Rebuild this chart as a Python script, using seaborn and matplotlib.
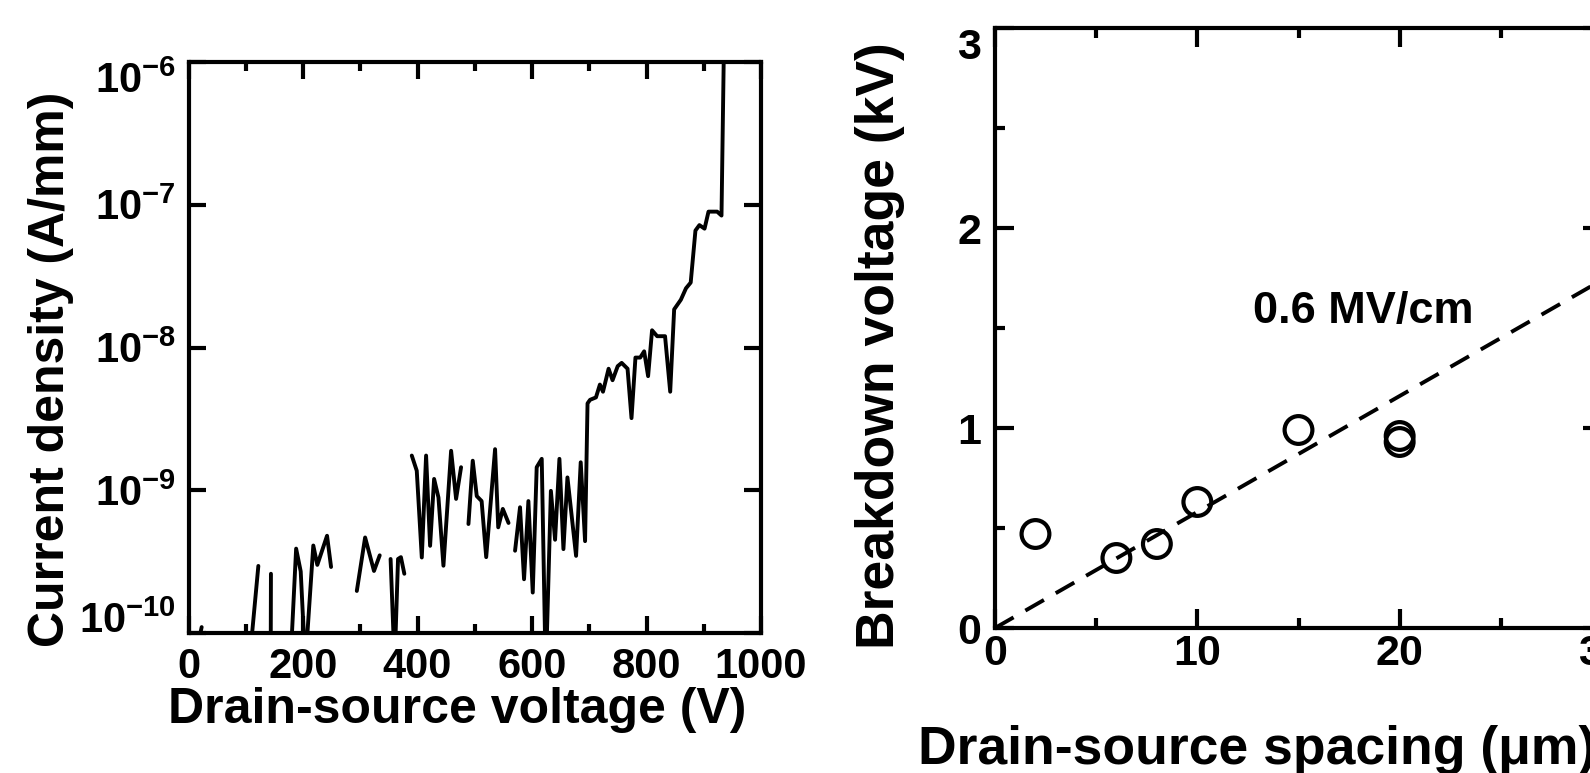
import numpy as np
import pandas as pd
import matplotlib
matplotlib.use("Agg")
import matplotlib.pyplot as plt
import seaborn as sns
from matplotlib.ticker import NullLocator, MultipleLocator, FixedLocator

# ---------------- data: left panel (leakage current vs drain voltage) ----------------
seg_id = ([0] * 2 + [1] * 2 + [2] * 2 + [3] * 8 + [4] * 4 + [5] * 5 + [6] * 11 + [7] * 9
          + [8] * 46)
voltage = [17, 23,
           106, 122,
           143.5, 144,
           178, 188, 196, 204, 218, 225, 242, 249,
           294, 308.5, 324, 334,
           353, 360, 366, 371, 377,
           390, 398.7, 407.5, 415, 422, 429, 436.6, 445.3, 458.7, 467.4, 476.1,
           489, 496.5, 503.5, 512, 520, 535.5, 541, 549, 559,
           570.4, 579.1, 586.1, 593.7, 601.3, 608.2, 617, 624, 633, 640.3, 647.9, 654.9,
           661.9, 677, 685.1, 692.7, 697, 701.4, 711.7, 718.6, 724, 733.8, 740.7, 749.7,
           756.6, 766.9, 773.8, 780.7, 789, 795.9, 802.8, 809.7, 818.6, 832.4, 841.4,
           848.3, 860, 869, 877.2, 885.5, 892.4, 901.4, 908.3, 923.4, 931, 935.9]
current = [0.85e-10, 1.1e-10,
           0.6e-10, 2.95e-10,
           0.5e-10, 2.6e-10,
           0.6e-10, 3.9e-10, 2.7e-10, 0.6e-10, 4.1e-10, 3.0e-10, 4.8e-10, 2.9e-10,
           1.97e-10, 4.67e-10, 2.72e-10, 3.5e-10,
           3.3e-10, 0.6e-10, 3.3e-10, 3.4e-10, 2.6e-10,
           1.75e-9, 1.37e-9, 3.38e-10, 1.75e-9, 4.08e-10, 1.2e-9, 8.9e-10, 2.96e-10,
           1.89e-9, 8.7e-10, 1.45e-9,
           5.8e-10, 1.61e-9, 9.1e-10, 8.4e-10, 3.4e-10, 1.94e-9, 5.5e-10, 7.4e-10, 5.9e-10,
           3.77e-10, 7.6e-10, 2.38e-10, 8.4e-10, 1.92e-10, 1.45e-9, 1.66e-9, 0.5e-10,
           9.9e-10, 4.5e-10, 1.66e-9, 3.87e-10, 1.23e-9, 3.47e-10, 1.57e-9, 4.4e-10,
           4.06e-9, 4.3e-9, 4.47e-9, 5.5e-9, 4.9e-9, 7.1e-9, 5.9e-9, 7.4e-9, 7.8e-9,
           7.1e-9, 3.2e-9, 8.5e-9, 8.5e-9, 9.4e-9, 6.3e-9, 1.32e-8, 1.2e-8, 1.2e-8,
           4.9e-9, 1.85e-8, 2.16e-8, 2.6e-8, 2.85e-8, 6.6e-8, 7.2e-8, 6.8e-8, 8.95e-8,
           8.95e-8, 8.4e-8, 2e-6]

# ---------------- data: right panel (breakdown voltage vs spacing) ----------------
spacing_um = [2, 6, 8, 10, 15, 20, 20]
breakdown_kv = [0.47, 0.35, 0.42, 0.63, 0.99, 0.96, 0.93]
fit_x = [0, 30]
fit_y = [0, 1.74]

left_xticks = [0, 200, 400, 600, 800, 1000]
left_yticks = [1e-10, 1e-9, 1e-8, 1e-7, 1e-6]
left_ytick_labels = [r"$\mathbf{10^{-10}}$", r"$\mathbf{10^{-9}}$", r"$\mathbf{10^{-8}}$",
                     r"$\mathbf{10^{-7}}$", r"$\mathbf{10^{-6}}$"]
right_xticks = [0, 10, 20, 30]
right_yticks = [0, 1, 2, 3]

# ---------------- style ----------------
sns.set_style("ticks")
plt.rcParams["font.family"] = ["Liberation Sans", "DejaVu Sans"]
plt.rcParams["font.weight"] = "bold"
plt.rcParams["mathtext.fontset"] = "custom"
plt.rcParams["mathtext.rm"] = "Liberation Sans:bold"
plt.rcParams["mathtext.bf"] = "Liberation Sans:bold"
plt.rcParams["mathtext.it"] = "Liberation Sans:bold"
plt.rcParams["axes.linewidth"] = 3.0
for key in ["text.color", "axes.labelcolor", "xtick.color", "ytick.color", "axes.edgecolor"]:
    plt.rcParams[key] = "black"

W, H = 1590, 773
fig = plt.figure(figsize=(W / 100, H / 100), dpi=100)
fig.patch.set_facecolor("white")


def frac(x0, y0, x1, y1):
    return [x0 / W, 1 - y1 / H, (x1 - x0) / W, (y1 - y0) / H]


ax1 = fig.add_axes(frac(188.5, 62, 761, 633))
ax2 = fig.add_axes(frac(995, 28, 1602, 628))

# ---------------- left panel ----------------
df_leak = pd.DataFrame({"V": voltage, "J": current, "seg": seg_id})
sns.lineplot(data=df_leak, x="V", y="J", units="seg", estimator=None, sort=False,
             color="black", lw=2.8, ax=ax1, legend=False)
ax1.set_yscale("log")
ax1.set_xlim(0, 1000)
ax1.set_ylim(1e-10, 1e-6)
ax1.xaxis.set_major_locator(FixedLocator(left_xticks))
ax1.xaxis.set_minor_locator(MultipleLocator(100))
ax1.set_yticks(left_yticks)
ax1.set_yticklabels(left_ytick_labels)
ax1.yaxis.set_minor_locator(NullLocator())
ax1.tick_params(which="both", direction="in", top=True, right=True, width=3, color="black")
ax1.tick_params(which="major", length=12.5)
ax1.tick_params(which="minor", length=6.5)
ax1.tick_params(axis="x", labelsize=30, pad=10)
ax1.tick_params(axis="y", labelsize=30, pad=9)
for lab in ax1.get_xticklabels():
    lab.set_fontweight("bold")
ytl = ax1.get_yticklabels()
ytl[0].set_va("baseline")
ytl[-1].set_va("top")

ax1.set_xlabel("Drain-source voltage (V)", fontsize=36, fontweight="bold", va="center")
ax1.xaxis.set_label_coords(0.469, -0.134)
ax1.set_ylabel("Current density (A/mm)", fontsize=36, fontweight="bold", va="center")
ax1.yaxis.set_label_coords(-0.240, 0.462)

# ---------------- right panel ----------------
sns.lineplot(x=fit_x, y=fit_y, ax=ax2, color="black", lw=2.8, linestyle=(0, (5.5, 3.5)))
sns.scatterplot(x=spacing_um, y=breakdown_kv, ax=ax2, s=400, marker="o",
                facecolor="none", edgecolor="black", linewidth=3, zorder=3)
for coll in ax2.collections:
    coll.set_facecolor("none")
    coll.set_edgecolor("black")
ax2.set_xlim(0, 30)
ax2.set_ylim(0, 3)
ax2.set_xticks(right_xticks)
ax2.set_yticks(right_yticks)
ax2.xaxis.set_minor_locator(MultipleLocator(5))
ax2.yaxis.set_minor_locator(MultipleLocator(0.5))
ax2.tick_params(which="both", direction="in", top=True, right=True, width=3, color="black")
ax2.tick_params(which="major", length=13.5)
ax2.tick_params(which="minor", length=7.5)
ax2.tick_params(axis="x", labelsize=31, pad=4)
ax2.tick_params(axis="y", labelsize=31, pad=10)
for lab in ax2.get_xticklabels() + ax2.get_yticklabels():
    lab.set_fontweight("bold")
ax2.get_yticklabels()[-1].set_va("top")

ax2.text(18.2, 1.58, "0.6 MV/cm", fontsize=32.5, fontweight="bold", ha="center", va="center")

ax2.set_ylabel("Breakdown voltage (kV)", fontsize=38.5, fontweight="bold", va="center")
ax2.yaxis.set_label_coords(-0.189, 0.47)
ax2.set_xlabel("Drain-source spacing (\u03bcm)", fontsize=38.5, fontweight="bold",
               ha="left", va="center")
ax2.xaxis.set_label_coords(-0.127, -0.203)

for ax in (ax1, ax2):
    for sp in ax.spines.values():
        sp.set_linewidth(3)
        sp.set_color("black")
        sp.set_visible(True)

fig.savefig("out.png", dpi=100, facecolor="white")
